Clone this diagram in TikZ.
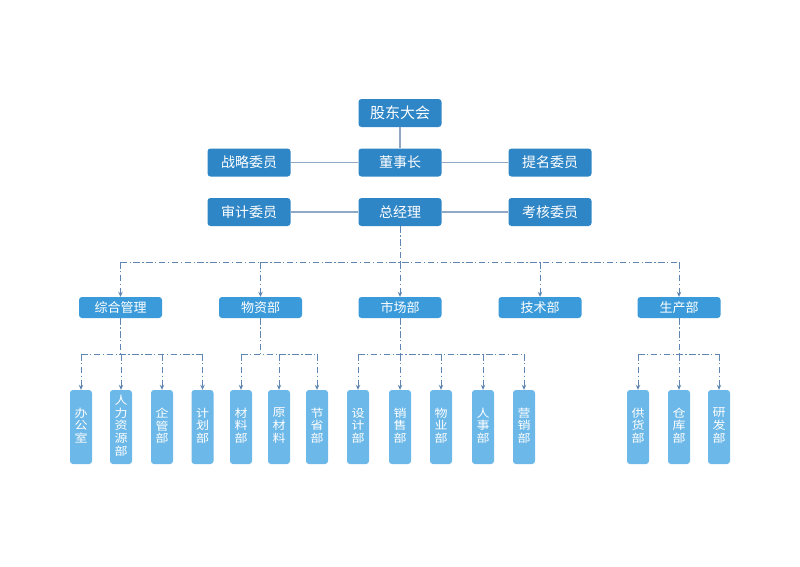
\documentclass[tikz,border=0pt]{standalone}
\usepackage{fontspec}
\setmainfont{Noto Sans CJK SC}
\usetikzlibrary{arrows.meta}
\definecolor{topblue}{HTML}{2F86C6}
\definecolor{midblue}{HTML}{3B9BDA}
\definecolor{lowblue}{HTML}{6CB8E8}
\definecolor{solidln}{HTML}{8FA8C6}
\definecolor{dashln}{HTML}{5F86B2}
\newcommand{\vtxt}[1]{\scalebox{1}[0.86]{\begin{tabular}{@{}c@{}}#1\end{tabular}}}
\tikzset{
  topbox/.style={fill=topblue,rounded corners=3pt,minimum width=83pt,minimum height=28pt,inner sep=0pt,text=white,font=\fontsize{14}{16}\selectfont},
  midbox/.style={fill=midblue,rounded corners=3pt,minimum width=83pt,minimum height=21pt,inner sep=0pt,text=white,font=\fontsize{13}{15}\selectfont},
  lowbox/.style={fill=lowblue,rounded corners=3pt,minimum width=22pt,minimum height=74pt,inner sep=0pt,text=white,align=center,font=\fontsize{13}{13.2}\selectfont},
  solid line/.style={draw=solidln,line width=1.1pt},
  dd/.style={draw=dashln,line width=1pt,dash pattern=on 6.5pt off 2.5pt on 1.3pt off 2.5pt},
  dda/.style={dd,-{Stealth[length=5pt,width=4.5pt]}}
}
\begin{document}
\begin{tikzpicture}[x=1pt,y=-1pt]
\useasboundingbox[fill=white] (0,0) rectangle (800,566);
% top level
\node[topbox,font=\fontsize{15}{17}\selectfont] (gd) at (400,113) {股东大会};
\node[topbox] (dsz) at (400,162.5) {董事长};
\node[topbox] (zl) at (249,162.5) {战略委员};
\node[topbox] (tm) at (550,162.5) {提名委员};
\node[topbox] (zjl) at (400,212) {总经理};
\node[topbox] (sj) at (249,212) {审计委员};
\node[topbox] (kh) at (550,212) {考核委员};
\draw[solid line] (gd) -- (dsz);
\draw[solid line] (zl) -- (dsz);
\draw[solid line] (dsz) -- (tm);
\draw[solid line] (sj) -- (zjl);
\draw[solid line] (zjl) -- (kh);
% level 2
\node[midbox] (m1) at (120.5,307.5) {综合管理};
\node[midbox] (m2) at (260.5,307.5) {物资部};
\node[midbox] (m3) at (400,307.5) {市场部};
\node[midbox] (m4) at (540,307.5) {技术部};
\node[midbox] (m5) at (679,307.5) {生产部};
\coordinate (b1) at (0,262);
\coordinate (b2) at (0,354);
\draw[dd] (zjl.south) -- (zjl.south |- b1);
\draw[dd] (m1.north |- b1) -- (m5.north |- b1);
\foreach \m in {m1,m2,m3,m4,m5}{\draw[dda] (\m.north |- b1) -- (\m.north);}
% level 3
\node[lowbox] (a1) at (81,427) {\vtxt{办\\公\\室}};
\node[lowbox] (a2) at (121,427) {\vtxt{人\\力\\资\\源\\部}};
\node[lowbox] (a3) at (162,427) {\vtxt{企\\管\\部}};
\node[lowbox] (a4) at (202.5,427) {\vtxt{计\\划\\部}};
\node[lowbox] (w1) at (241,427) {\vtxt{材\\料\\部}};
\node[lowbox] (w2) at (279,427) {\vtxt{原\\材\\料}};
\node[lowbox] (w3) at (317,427) {\vtxt{节\\省\\部}};
\node[lowbox] (s1) at (358,427) {\vtxt{设\\计\\部}};
\node[lowbox] (s2) at (400,427) {\vtxt{销\\售\\部}};
\node[lowbox] (s3) at (441,427) {\vtxt{物\\业\\部}};
\node[lowbox] (s4) at (483,427) {\vtxt{人\\事\\部}};
\node[lowbox] (s5) at (524,427) {\vtxt{营\\销\\部}};
\node[lowbox] (p1) at (638,427) {\vtxt{供\\货\\部}};
\node[lowbox] (p2) at (679,427) {\vtxt{仓\\库\\部}};
\node[lowbox] (p3) at (719,427) {\vtxt{研\\发\\部}};
% level 3 connectors
\draw[dd] (m1.south) -- (m1.south |- b2);
\draw[dd] (a1.north |- b2) -- (a4.north |- b2);
\foreach \c in {a1,a2,a3,a4}{\draw[dda] (\c.north |- b2) -- (\c.north);}
\draw[dd] (m2.south) -- (m2.south |- b2);
\draw[dd] (w1.north |- b2) -- (w3.north |- b2);
\foreach \c in {w1,w2,w3}{\draw[dda] (\c.north |- b2) -- (\c.north);}
\draw[dd] (m3.south) -- (m3.south |- b2);
\draw[dd] (s1.north |- b2) -- (s5.north |- b2);
\foreach \c in {s1,s2,s3,s4,s5}{\draw[dda] (\c.north |- b2) -- (\c.north);}
\draw[dd] (m5.south) -- (m5.south |- b2);
\draw[dd] (p1.north |- b2) -- (p3.north |- b2);
\foreach \c in {p1,p2,p3}{\draw[dda] (\c.north |- b2) -- (\c.north);}
\end{tikzpicture}
\end{document}
